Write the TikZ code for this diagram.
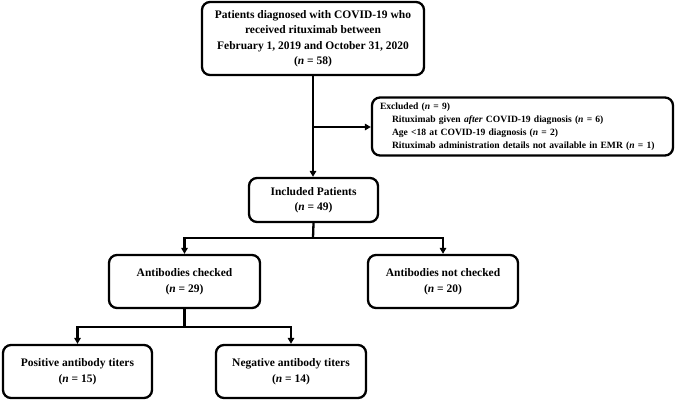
\documentclass[tikz,border=0pt]{standalone}
\usepackage{fontspec}
\setmainfont{Liberation Serif}
\usetikzlibrary{arrows.meta}
\newcommand{\nn}{\textit{n}}
\begin{document}
\begin{tikzpicture}[x=1pt,y=-1pt,
  box/.style={draw,line width=2.3pt,rounded corners=8pt,align=center,inner sep=0pt,
    font=\bfseries\fontsize{11.5}{15.5}\selectfont},
  conn/.style={line width=2.3pt},
  arr/.style={line width=2.3pt,-{Triangle[length=6pt,width=6.5pt]}}]
\useasboundingbox (0,0) rectangle (676,402);
\node[box,minimum width=222pt,minimum height=73pt] (top) at (313,38.5)
  {Patients diagnosed with COVID-19 who\\received rituximab between\\February 1, 2019 and October 31, 2020\\(\nn{} = 58)};
\node[box,minimum width=301pt,minimum height=58pt,text width=285pt,inner xsep=8pt,align=left,
  font=\bfseries\fontsize{9.6}{13}\selectfont] (excl) at (522.5,126.5)
  {Excluded (\nn{} = 9)\\
   \hspace*{12pt}Rituximab given \textit{after} COVID-19 diagnosis (\nn{} = 6)\\
   \hspace*{12pt}Age <18 at COVID-19 diagnosis (\nn{} = 2)\\
   \hspace*{12pt}Rituximab administration details not available in EMR (\nn{} = 1)};
\node[box,minimum width=129pt,minimum height=44pt] (incl) at (313.5,200)
  {Included Patients\\(\nn{} = 49)};
\node[box,minimum width=151pt,minimum height=53pt] (abc) at (184.5,281.5)
  {Antibodies checked\\(\nn{} = 29)};
\node[box,minimum width=150pt,minimum height=53pt] (abn) at (443,281.5)
  {Antibodies not checked\\(\nn{} = 20)};
\node[box,minimum width=149pt,minimum height=53pt] (pos) at (77.5,371.5)
  {Positive antibody titers\\(\nn{} = 15)};
\node[box,minimum width=150pt,minimum height=53pt] (neg) at (291,371.5)
  {Negative antibody titers\\(\nn{} = 14)};
\coordinate (b1) at (313,127);
\coordinate (b2) at (313,238);
\coordinate (b3) at (184.5,327);
\draw[arr] (top.south) -- (top.south |- incl.north);
\draw[arr] (b1) -- (excl.west |- b1);
\draw[conn] (incl.south) -- (b2);
\draw[arr] (b2) -| (abc.north);
\draw[arr] (b2) -| (abn.north);
\draw[conn] (abc.south) -- (b3);
\draw[arr] (b3) -| (pos.north);
\draw[arr] (b3) -| (neg.north);
\end{tikzpicture}
\end{document}
